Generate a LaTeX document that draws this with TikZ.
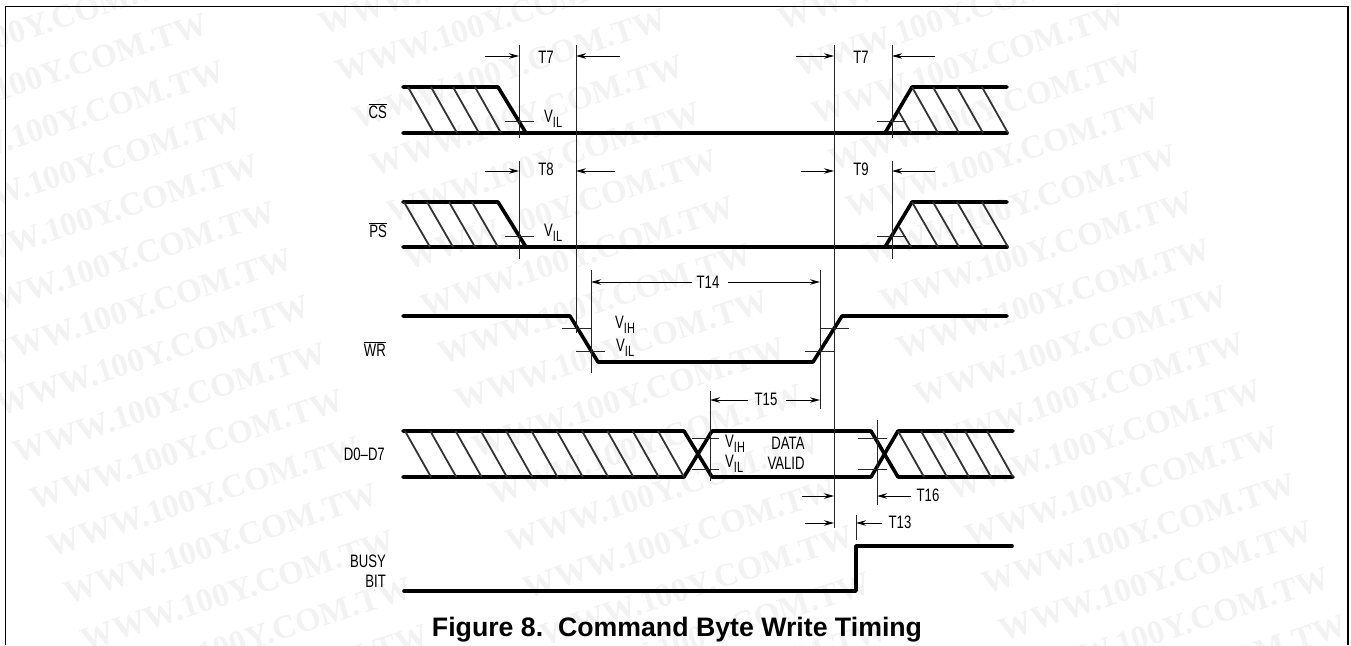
\documentclass[tikz,border=0pt]{standalone}
\usepackage{fontspec}
\usepackage{tikz}
\usetikzlibrary{arrows.meta}
\newfontfamily\lblfont[FakeStretch=0.73]{Liberation Sans}
\newfontfamily\capfont{Liberation Sans}
\newfontfamily\markfont{Liberation Serif}
\newcommand{\vlevel}[1]{V\raisebox{-5.5pt}{\fontsize{15}{15}\selectfont #1}}
\tikzset{
	signal/.style={line width=3.6pt,line cap=round,line join=round},
	hatch/.style={line width=1.8pt,black!80},
	guide/.style={line width=1pt,black!85},
	dim/.style={line width=1pt,-{Stealth[length=10pt,width=5.5pt]}},
	lbl/.style={font=\lblfont\fontsize{18}{18}\selectfont,inner sep=0pt,anchor=base},
	wmark/.style={font=\markfont\bfseries\fontsize{33}{33}\selectfont,text=black!5,inner sep=0pt,anchor=north east,rotate=18},
}

\begin{document}
\begin{tikzpicture}[x=1pt,y=-1pt]
	\useasboundingbox (0,0) rectangle (1351,645);
	\foreach \c/\xe/\ye in {0/203/12,1/662/7,2/1121/2}
		\foreach \k in {-2,...,14}
			\node[wmark] (mark-\c-\k) at (\xe+17*\k,\ye+47*\k) {WWW.100Y.COM.TW};
	\draw[line width=1.5pt] (5.5,645) -- (5.5,6.5) -- (1348,6.5) -- (1348,645);
	% CS and PS
	\draw[signal] (403,87) -- (498,87) -- (526,133);
	\draw[signal] (403,133) -- (885,133) -- (912,87) -- (1007,87);
	\draw[signal] (885,133) -- (1007,133);
	\foreach \x in {408,431,453,475} \draw[hatch] (\x,87) -- ++(26,46);
	\foreach \x in {912,933,957,982} \draw[hatch] (\x,87) -- ++(26,46);
	\draw[hatch] (899,112) -- (911,133);
	\draw[signal] (403,202) -- (498,202) -- (526,247);
	\draw[signal] (403,247) -- (885,247) -- (912,202) -- (1007,202);
	\draw[signal] (885,247) -- (1007,247);
	\foreach \x in {404,427,449,472} \draw[hatch] (\x,202) -- ++(26,45);
	\foreach \x in {912,933,957,982} \draw[hatch] (\x,202) -- ++(26,45);
	\draw[hatch] (899,227) -- (911,247);
	% WR
	\draw[signal] (403,316) -- (570,316) -- (598,362) -- (813,362) -- (842,316) -- (1007,316);
	% D0-D7
	\draw[signal] (403,431) -- (684,431) -- (712,477) -- (871,477) -- (898,431) -- (1013,431);
	\draw[signal] (403,477) -- (684,477) -- (712,431) -- (871,431) -- (898,477) -- (1013,477);
	\foreach \i in {0,...,10} \draw[hatch] (405+25.3*\i,431) -- ++(26,46);
	\foreach \x in {898,921,943,965,987} \draw[hatch] (\x,431) -- ++(26,46);
	% BUSY BIT
	\draw[signal] (404,591) -- (856,591) -- (856,546) -- (1012,546);
	% timing guides
	\foreach \x/\ya/\yb in {519/45/138,576/45/333,834/45/528,892/45/138,519/161/259,892/161/259,
		591/270/373,820/270/409,710/391/481,877/420/505,856/515/540}
		\draw[guide] (\x,\ya) -- (\x,\yb);
	% level ticks
	\foreach \y/\xa/\xb in {121/505/534,121/877/906,236/505/534,236/877/906,328/562/591,351/576/605,
		328/820/849,351/805/834,438/692/719,469/692/719,438/858/887,469/858/887}
		\draw[guide] (\xa,\y) -- (\xb,\y);
	% dimension arrows
	\foreach \y/\xa/\xb [count=\i] in {56/485/519,56/620/576,56/796/834,56/935/892,171/485/519,171/615/576,
		171/801/834,171/935/892,282/692/591,282/728/820,400/748/710,400/786/820,
		496/802/834,496/911/877,523/805/834,523/882/856}
	{
		\coordinate (from\i) at (\xa,\y);
		\coordinate (to\i) at (\xb,\y);
		\draw[dim] (from\i) -- (to\i);
	}
	% labels
	\foreach \name/\x/\y/\txt in {t7a/546/63/T7,t7b/861/63/T7,t8/546/175/T8,t9/861/175/T9,t14/708/288/T14,
		t15/766/405/T15,t16/928/501/T16,t13/900/528/T13,data/788/449/DATA,valid/786/469/VALID}
		\node[lbl] (\name) at (\x,\y) {\txt};
	\foreach \name/\x/\y/\txt in {csl/544/122/IL,psl/544/236/IL,wrh/615/328/IH,wrl/616/351/IL,dh/725/447/IH,dl/725/467/IL}
		\node[lbl,anchor=base west] (\name) at (\x,\y) {\vlevel{\txt}};
	\node[lbl,anchor=base east] (cs) at (387,118) {$\overline{\hbox{CS}}$};
	\node[lbl,anchor=base east] (ps) at (387,237) {$\overline{\hbox{PS}}$};
	\node[lbl,anchor=base east] (wr) at (386,356) {$\overline{\hbox{WR}}$};
	\node[lbl,anchor=base east] (data-bus) at (385,460) {D0–D7};
	\node[lbl,anchor=base east] (busy) at (386,567) {BUSY};
	\node[lbl,anchor=base east] (bit) at (386,587) {BIT};
	\node[font=\capfont\bfseries\fontsize{26.7}{27}\selectfont,inner sep=0pt,anchor=base] (title) at (677,636) {Figure 8.\ \ Command Byte Write Timing};
\end{tikzpicture}
\end{document}
